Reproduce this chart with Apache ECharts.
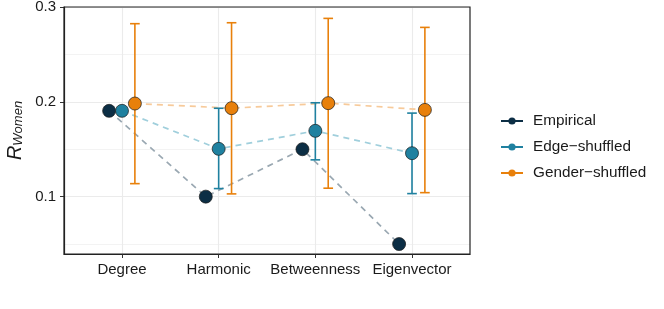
<!DOCTYPE html>
<html><head><meta charset="utf-8">
<script src="https://cdn.jsdelivr.net/npm/echarts@6/dist/echarts.min.js"></script>
<style>html,body{margin:0;padding:0;background:#fff}#c{width:664px;height:309px}</style>
</head><body><div id="c"></div>
<script>
const categories = ['Degree', 'Harmonic', 'Betweenness', 'Eigenvector'];
const seriesNames = ['Empirical', 'Edge\u2212shuffled', 'Gender\u2212shuffled'];
const empirical = [0.1905, 0.100, 0.150, 0.050];
const edgeMean = [0.1905, 0.1504, 0.1694, 0.1458];
const edgeLow = [null, 0.1085, 0.1388, 0.1032];
const edgeHigh = [null, 0.1932, 0.1990, 0.1881];
const genderMean = [0.1982, 0.1933, 0.1986, 0.1915];
const genderLow = [0.1137, 0.1029, 0.1089, 0.1042];
const genderHigh = [0.2824, 0.2834, 0.2880, 0.2785];
const yTicks = [0.1, 0.2, 0.3];
const yMinor = [0.05, 0.15, 0.25];

const FONT = '"Liberation Sans", Arial, sans-serif';
const colors = ['#0c2e45', '#1f81a0', '#e8800b'];
const lineColors = ['#9aa8b2', '#a0cfdc', '#f7ca9a'];
const dodge = [-0.1333, 0, 0.1333];
const means = [empirical, edgeMean, genderMean];
const X_MIN = 0.4, X_MAX = 4.6, Y_MIN = 0.0395, Y_MAX = 0.3;

function pts(arr, k) { return arr.map((v, i) => [i + 1 + dodge[k], v]); }
function bars(lo, hi, k) {
  const out = [];
  lo.forEach((v, i) => { if (v != null) out.push([i + 1 + dodge[k], v, hi[i]]); });
  return out;
}

const series = [];
series.push({
  type: 'line', data: [], silent: true, z: 0,
  markLine: {
    silent: true, symbol: 'none', label: { show: false }, animation: false, z: 0,
    data: [
      ...yMinor.map(v => ({ yAxis: v, lineStyle: { color: '#f0f0f0', width: 0.8, type: 'solid' } })),
      ...yTicks.map(v => ({ yAxis: v, lineStyle: { color: '#ebebeb', width: 1.1, type: 'solid' } })),
      ...categories.map((c, i) => ({ xAxis: i + 1, lineStyle: { color: '#ebebeb', width: 1.1, type: 'solid' } }))
    ]
  }
});
for (let k = 0; k < 3; k++) {
  series.push({
    type: 'line', data: pts(means[k], k), symbol: 'none', z: 2, silent: true,
    lineStyle: { color: lineColors[k], width: 1.7, type: [6, 5] }
  });
}
function errRender(color) {
  return function (params, api) {
    const x = api.value(0), lo = api.value(1), hi = api.value(2);
    const a = api.coord([x, lo]), b = api.coord([x, hi]);
    const hw = api.size([0.05, 0])[0];
    const st = { stroke: color, lineWidth: 1.6, fill: null };
    return { type: 'group', children: [
      { type: 'line', shape: { x1: a[0], y1: a[1], x2: b[0], y2: b[1] }, style: st },
      { type: 'line', shape: { x1: a[0] - hw, y1: a[1], x2: a[0] + hw, y2: a[1] }, style: st },
      { type: 'line', shape: { x1: b[0] - hw, y1: b[1], x2: b[0] + hw, y2: b[1] }, style: st }
    ]};
  };
}
series.push({ type: 'custom', data: bars(edgeLow, edgeHigh, 1), renderItem: errRender(colors[1]), encode: { x: 0, y: [1, 2] }, z: 3, silent: true });
series.push({ type: 'custom', data: bars(genderLow, genderHigh, 2), renderItem: errRender(colors[2]), encode: { x: 0, y: [1, 2] }, z: 3, silent: true });
for (let k = 0; k < 3; k++) {
  series.push({
    type: 'scatter', data: pts(means[k], k), symbolSize: 13, z: 4, silent: true,
    itemStyle: { color: colors[k], borderColor: '#1a1a1a', borderWidth: 0.7, opacity: 1 }
  });
}
for (let k = 0; k < 3; k++) {
  series.push({
    type: 'line', name: seriesNames[k], data: [], symbol: 'circle', symbolSize: 9,
    itemStyle: { color: colors[k] }, lineStyle: { color: colors[k], width: 2 }
  });
}

const chart = echarts.init(document.getElementById('c'));
chart.setOption({
  animation: false,
  backgroundColor: '#fff',
  grid: { left: 64, top: 7, right: 194, bottom: 55, outerBoundsMode: 'none', containLabel: false },
  legend: {
    orient: 'vertical', left: 500, top: 113, padding: 0, itemWidth: 22, itemHeight: 9, itemGap: 10,
    data: seriesNames, selectedMode: false,
    textStyle: { fontFamily: FONT, fontSize: 15.3, lineHeight: 16, color: '#1a1a1a', padding: [0, 0, 0, 5] }
  },
  xAxis: {
    type: 'value', min: X_MIN, max: X_MAX,
    axisLine: { show: true, onZero: false, lineStyle: { color: '#222', width: 1.2 } },
    axisTick: { show: true, length: 4, customValues: [1, 2, 3, 4], lineStyle: { color: '#333' } },
    axisLabel: { customValues: [1, 2, 3, 4], formatter: v => categories[Math.round(v) - 1], margin: 8, fontFamily: FONT, fontSize: 15, color: '#1a1a1a' },
    splitLine: { show: false }
  },
  yAxis: {
    type: 'value', min: Y_MIN, max: Y_MAX,
    name: '{r|R}{s|Women}', nameLocation: 'middle', nameRotate: 90, nameGap: 39, nameMoveOverlap: false,
    nameTextStyle: { rich: {
      r: { fontFamily: FONT, fontSize: 20, fontStyle: 'italic', color: '#1a1a1a', lineHeight: 24, verticalAlign: 'bottom' },
      s: { fontFamily: FONT, fontSize: 13, fontStyle: 'italic', color: '#1a1a1a', lineHeight: 16, verticalAlign: 'bottom' }
    } },
    axisLine: { show: true, onZero: false, lineStyle: { color: '#222', width: 1.2 } },
    axisTick: { show: true, length: 4, customValues: yTicks, lineStyle: { color: '#333' } },
    axisLabel: { customValues: yTicks, formatter: v => v.toFixed(1), margin: 8, fontFamily: FONT, fontSize: 15, color: '#1a1a1a' },
    splitLine: { show: false }
  },
  series: series
});
const tl = chart.convertToPixel({ gridIndex: 0 }, [X_MIN, Y_MAX]);
const br = chart.convertToPixel({ gridIndex: 0 }, [X_MAX, Y_MIN]);
chart.setOption({
  graphic: [{
    type: 'rect', silent: true, z: 10,
    shape: { x: tl[0], y: tl[1], width: br[0] - tl[0], height: br[1] - tl[1] },
    style: { fill: null, stroke: '#222', lineWidth: 1.2 }
  }]
});
</script></body></html>
